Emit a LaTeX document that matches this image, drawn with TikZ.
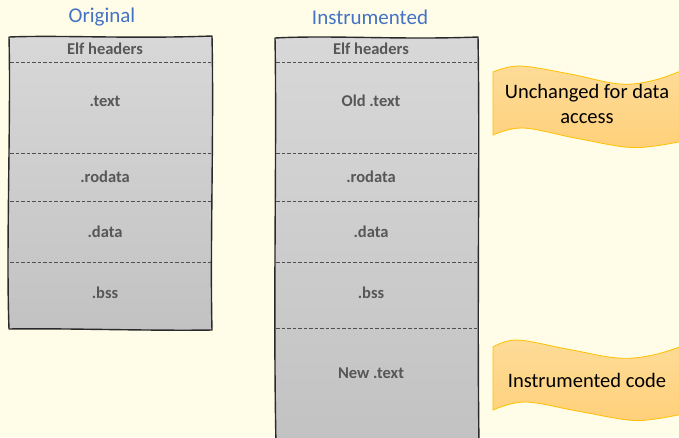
\documentclass[tikz,border=0pt]{standalone}
\usepackage{fontspec}
\setmainfont{Carlito}
\definecolor{bg}{HTML}{FFFDE8}
\definecolor{boxtop}{HTML}{D8D8D8}
\definecolor{boxbot}{HTML}{C2C2C2}
\definecolor{edge}{HTML}{2A2A2A}
\definecolor{divcol}{HTML}{505050}
\definecolor{lblcol}{HTML}{575757}
\definecolor{titlecol}{HTML}{4472C4}
\definecolor{wavetop}{HTML}{FDDC98}
\definecolor{wavebot}{HTML}{FFD07A}
\definecolor{waveedge}{HTML}{FFC000}
\tikzset{
  sketch/.style={draw=edge, line width=1.4pt, line join=round, top color=boxtop, bottom color=boxbot},
  divider/.style={draw=divcol, line width=1pt, dash pattern=on 3.5pt off 2pt},
  lbl/.style={font=\bfseries\fontsize{16.5}{19}\selectfont, text=lblcol, inner sep=0pt},
  title/.style={font=\fontsize{21}{24}\selectfont, text=titlecol, inner sep=0pt},
  banner/.style={draw=waveedge, line width=0.8pt, top color=wavetop, bottom color=wavebot},
  bannertxt/.style={font=\fontsize{20.5}{25}\selectfont, text=black, align=center, inner sep=0pt},
}
\begin{document}
\begin{tikzpicture}[x=1pt,y=-1pt]
\fill[bg] (0,0) rectangle (679,437);
\useasboundingbox (0,0) rectangle (679,437);

% column titles
\node[title] (tOrig) at (102,17) {Original};
\node[title] (tInst) at (370,17) {Instrumented};

% original ELF layout
\path[sketch] (9,37) .. controls (60,35) and (130,39) .. (212,36)
  .. controls (214,130) and (210,250) .. (212,330)
  .. controls (150,331) and (60,328) .. (9,329)
  .. controls (6,250) and (11,120) .. (9,37) -- cycle;
\draw[divider] (10,62) -- (211,62);
\draw[divider] (10,153) -- (211,153);
\draw[divider] (10,201) -- (211,201);
\draw[divider] (10,262) -- (211,262);
\node[lbl] (oElf) at (105,49) {Elf headers};
\node[lbl] (oText) at (105,101) {.text};
\node[lbl] (oRo) at (105,177) {.rodata};
\node[lbl] (oData) at (105,232) {.data};
\node[lbl] (oBss) at (105,293) {.bss};

% instrumented ELF layout
\path[sketch] (275,38) .. controls (330,35) and (400,40) .. (478,37)
  .. controls (480,150) and (477,300) .. (479,445)
  -- (276,445)
  .. controls (273,300) and (277,150) .. (275,38) -- cycle;
\draw[divider] (276,62) -- (477,62);
\draw[divider] (276,153) -- (477,153);
\draw[divider] (276,201) -- (477,201);
\draw[divider] (276,262) -- (477,262);
\draw[divider] (276,328) -- (477,328);
\node[lbl] (iElf) at (371,49) {Elf headers};
\node[lbl] (iText) at (371,101) {Old .text};
\node[lbl] (iRo) at (371,177) {.rodata};
\node[lbl] (iData) at (371,232) {.data};
\node[lbl] (iBss) at (371,293) {.bss};
\node[lbl] (iNew) at (371,373) {New .text};

% wave banners
\path[banner] plot[smooth, tension=0.6] coordinates {(493,72) (520,66) (570,74) (620,84) (655,80) (688,68)}
  -- plot[smooth, tension=0.6] coordinates {(688,140) (655,146) (625,147) (575,138) (523,128) (493,135)} -- cycle;
\node[bannertxt] (w1) at (587,104) {Unchanged for data\\access};

\path[banner] plot[smooth, tension=0.6] coordinates {(493,347) (517,340) (567,349) (618,358) (653,355) (688,344)}
  -- plot[smooth, tension=0.6] coordinates {(688,413) (655,419) (628,420) (577,411) (525,402) (493,410)} -- cycle;
\node[bannertxt] (w2) at (587,380) {Instrumented code};
\end{tikzpicture}
\end{document}
